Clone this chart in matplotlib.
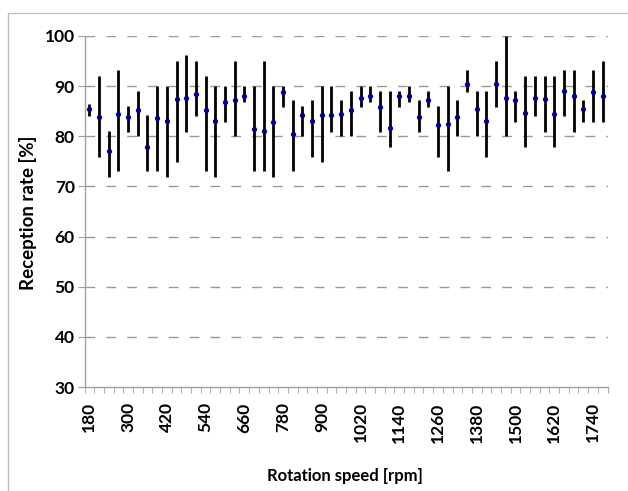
#!/usr/bin/env python3
# -*- coding: utf-8 -*-
"""Reception rate vs rotation speed, mean with min/max bars (Excel-style chart)."""
import numpy as np
import matplotlib
matplotlib.use("Agg")
import matplotlib.pyplot as plt
from matplotlib.patches import Rectangle

# rotation speed categories [rpm]
rpm = [180, 210, 240, 270, 300, 330, 360, 390, 420, 450, 480, 510, 540, 570,
       600, 630, 660, 690, 720, 750, 780, 810, 840, 870, 900, 930, 960, 990,
       1020, 1050, 1080, 1110, 1140, 1170, 1200, 1230, 1260, 1290, 1320, 1350,
       1380, 1410, 1440, 1470, 1500, 1530, 1560, 1590, 1620, 1650, 1680, 1710,
       1740, 1770]

# mean reception rate [%]
rate_mean = [85.4, 83.8, 77.1, 84.5, 83.8, 85.2, 77.8, 83.6, 83.1, 87.4,
             87.7, 88.4, 85.2, 83.1, 86.8, 87.2, 88.1, 81.5, 81.1, 82.9,
             88.8, 80.5, 84.3, 83.1, 84.3, 84.3, 84.5, 85.2, 87.7, 88.1,
             85.8, 81.7, 88.1, 88.1, 83.8, 87.2, 82.2, 82.4, 83.8, 90.4,
             85.4, 83.1, 90.4, 87.7, 87.2, 84.7, 87.7, 87.4, 84.5, 89.1,
             88.1, 85.4, 88.8, 88.1]

# max reception rate [%]
rate_max = [86.4, 92.0, 81.1, 93.2, 86.1, 89.1, 84.3, 90.0, 90.0, 95.0,
            96.2, 95.0, 92.0, 90.0, 90.0, 95.0, 90.0, 90.0, 95.0, 90.0,
            90.0, 87.2, 86.1, 87.2, 90.0, 90.0, 87.2, 89.1, 90.0, 90.0,
            89.1, 89.1, 89.1, 90.0, 87.2, 89.1, 86.1, 90.0, 87.2, 93.2,
            89.1, 89.1, 95.0, 100.0, 89.1, 92.0, 92.0, 92.0, 92.0, 93.2,
            93.2, 87.2, 93.2, 95.0]

# min reception rate [%]
rate_min = [84.0, 75.9, 71.8, 73.0, 80.8, 80.0, 73.0, 73.0, 71.8, 74.8,
            80.8, 84.0, 73.0, 71.8, 82.8, 80.0, 86.9, 73.0, 73.0, 71.8,
            85.9, 73.0, 80.0, 75.9, 74.8, 80.8, 80.0, 80.0, 85.9, 86.9,
            80.8, 77.8, 85.9, 86.9, 80.8, 85.9, 75.9, 73.0, 80.0, 88.8,
            80.0, 75.9, 85.9, 80.0, 82.8, 77.8, 84.0, 80.8, 77.8, 84.0,
            80.8, 82.8, 82.8, 82.8]

y_ticks = [30, 40, 50, 60, 70, 80, 90, 100]

FONT = ["Lato", "DejaVu Sans"]
GRAY = "#A0A0A0"


def main() -> int:
    plt.rcParams["font.family"] = FONT
    plt.rcParams["font.weight"] = "bold"

    fig = plt.figure(figsize=(6.28, 4.91), dpi=100)
    W, H = 628, 491
    # chart-area border (runs off the right/bottom of the image)
    fig.patches.append(Rectangle((8 / W, -0.05), 1.2, (H - 13) / H + 0.05,
                                 transform=fig.transFigure, fill=False,
                                 edgecolor="#BFBFBF", linewidth=1.0))

    ax = fig.add_axes([84.5 / W, (H - 387) / H, (607.5 - 84.5) / W, (387 - 36) / H])
    x = np.arange(len(rpm))
    mean = np.array(rate_mean)
    lo = mean - np.array(rate_min)
    hi = np.array(rate_max) - mean

    ax.errorbar(x, mean, yerr=[lo, hi], fmt="none", ecolor="black",
                elinewidth=2.0, capsize=0, zorder=3)
    ax.plot(x, mean, "o", color="#00008B", markersize=3.8, zorder=4,
            markeredgewidth=0)

    ax.set_xlim(-0.5, len(rpm) - 0.5)
    ax.set_ylim(30, 100)
    ax.set_yticks(y_ticks)
    ax.set_yticklabels([str(v) for v in y_ticks], fontsize=12.5, fontweight="bold")
    for v in y_ticks[1:]:
        ax.axhline(v, color="#999999", linewidth=1.0, linestyle=(0, (7, 8)), zorder=1)

    ax.set_xticks(x[::4])
    ax.set_xticklabels([str(r) for r in rpm[::4]], rotation=90,
                       fontsize=12.5, fontweight="bold")
    ax.set_xticks(np.arange(-0.5, len(rpm), 1.0), minor=True)
    ax.tick_params(axis="x", which="major", length=0, pad=11)
    ax.tick_params(axis="x", which="minor", length=4, color=GRAY, direction="out")
    ax.tick_params(axis="y", length=5, color=GRAY, pad=2)

    for s in ("top", "right"):
        ax.spines[s].set_visible(False)
    for s in ("left", "bottom"):
        ax.spines[s].set_color(GRAY)
        ax.spines[s].set_linewidth(1.0)

    fig.text(28 / W, 1 - 213 / H, "Reception rate [%]", rotation=90,
             ha="center", va="center", fontsize=13.5, fontweight="bold")
    fig.text(345 / W, 1 - 476 / H, "Rotation speed [rpm]",
             ha="center", va="center", fontsize=12, fontweight="bold")

    fig.savefig("out.png", dpi=100)
    plt.close(fig)
    return 0


if __name__ == "__main__":
    raise SystemExit(main())
